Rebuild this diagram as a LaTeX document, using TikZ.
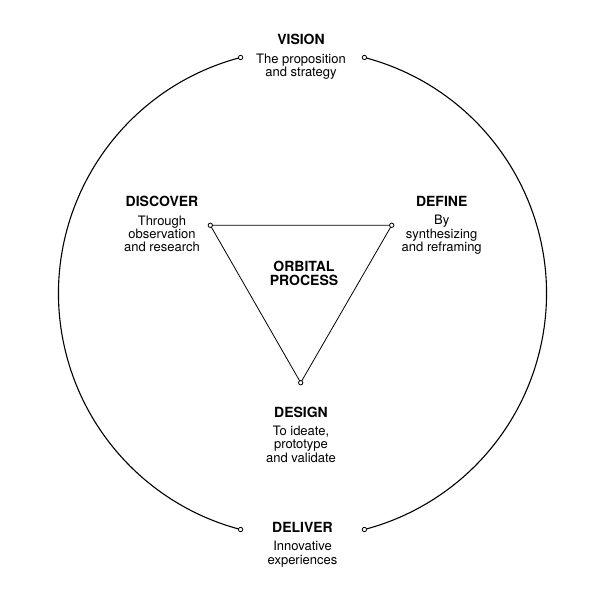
\documentclass[tikz,border=0pt]{standalone}
\usepackage{fontspec}
\setmainfont{TeX Gyre Heros}
\usetikzlibrary{positioning}

\begin{document}
\begin{tikzpicture}[x=1pt, y=1pt,
		title_style/.style={font=\fontsize{14}{14}\selectfont\bfseries, anchor=base, inner sep=0pt},
		body_style/.style={font=\fontsize{13}{13.3}\selectfont, align=center, inner sep=0pt},
		dot_style/.style={circle, draw=black, fill=white, line width=0.8pt, inner sep=0pt, minimum size=4.4pt},
		orbit_style/.style={draw=black, line width=1.1pt},
		edge_style/.style={draw=black, line width=0.8pt}]

		\useasboundingbox (0,0) rectangle (600,600);

		% orbit
		\coordinate (c) at (302.5,306.5);
		\coordinate (vl) at ([shift={(104.7:244)}]c);
		\coordinate (vr) at ([shift={(75.3:244)}]c);
		\coordinate (dl) at ([shift={(255.3:244)}]c);
		\coordinate (dr) at ([shift={(284.7:244)}]c);
		\draw[orbit_style] (vl) arc[start angle=104.7, end angle=255.3, radius=244];
		\draw[orbit_style] (vr) arc[start angle=75.3, end angle=-75.3, radius=244];

		% triangle
		\coordinate (t1) at (210.3,374.7);
		\coordinate (t2) at (391.7,374.7);
		\coordinate (t3) at (300.7,217.3);
		\draw[edge_style] (t1) -- (t2) -- (t3) -- cycle;

		\foreach \p in {vl,vr,dl,dr,t1,t2,t3}
			\node[dot_style] at (\p) {};

		% stages
		\node[title_style] (vision) at (301,555) {VISION};
		\node[body_style, below=8.5pt of vision.base] (vision_txt) {The proposition\\and strategy};

		\node[title_style] (discover) at (162,393) {DISCOVER};
		\node[body_style, below=8.5pt of discover.base] (discover_txt) {Through\\observation\\and research};

		\node[title_style] (define) at (441.7,393.3) {DEFINE};
		\node[body_style, below=8.5pt of define.base] (define_txt) {By\\synthesizing\\and reframing};

		\node[title_style] (design) at (301,182.7) {DESIGN};
		\node[body_style, below=8.5pt of design.base] (design_txt) {To ideate,\\prototype\\and validate};

		\node[title_style] (deliver) at (302.5,67.3) {DELIVER};
		\node[body_style, below=8.5pt of deliver.base] (deliver_txt) {Innovative\\experiences};

		\node[title_style, anchor=center, align=center] (orbital) at (304,326.3) {ORBITAL\\PROCESS};

\end{tikzpicture}
\end{document}
